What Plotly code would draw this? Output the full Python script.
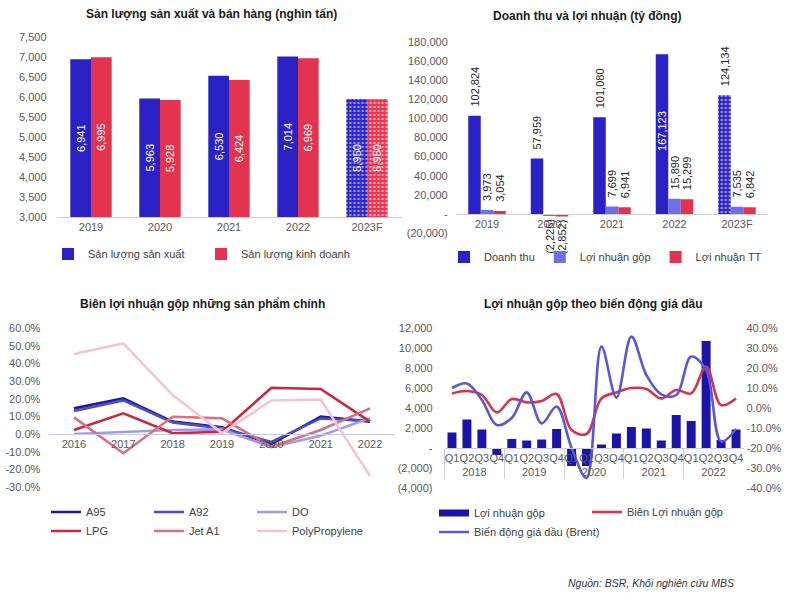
import plotly.graph_objects as go

# ---------------- data ----------------
years_prod = ["2019", "2020", "2021", "2022", "2023F"]
san_luong_san_xuat = [6941, 5963, 6530, 7014, 5950]
san_luong_kinh_doanh = [6995, 5928, 6424, 6969, 5950]
prod_tickvals = [3000, 3500, 4000, 4500, 5000, 5500, 6000, 6500, 7000, 7500]

years_rev = ["2019", "2020", "2021", "2022", "2023F"]
doanh_thu = [102824, 57959, 101080, 167123, 124134]
loi_nhuan_gop = [3973, -2225, 7699, 15890, 7535]
loi_nhuan_tt = [3054, -2852, 6941, 15299, 6842]
rev_tickvals = [-20000, 0, 20000, 40000, 60000, 80000, 100000, 120000, 140000, 160000, 180000]
rev_ticktext = ["(20,000)", "-", "20,000", "40,000", "60,000", "80,000", "100,000",
                "120,000", "140,000", "160,000", "180,000"]

years_margin = ["2016", "2017", "2018", "2019", "2020", "2021", "2022"]
margin_A95 = [14.5, 20.2, 7.0, 3.8, -5.7, 9.8, 7.0]
margin_A92 = [13.0, 19.0, 6.5, 3.2, -4.5, 8.8, 7.4]
margin_DO = [0.0, 1.3, 2.3, 2.6, -7.5, -1.0, 9.0]
margin_LPG = [2.3, 11.7, 0.4, 1.3, 26.2, 25.5, 7.0]
margin_JetA1 = [9.4, -10.9, 9.8, 8.9, -7.2, 2.3, 14.5]
margin_PP = [45.3, 51.3, 22.0, 0.5, 19.0, 19.5, -23.8]
margin_tickvals = [-30, -20, -10, 0, 10, 20, 30, 40, 50, 60]
margin_ticktext = ["-30.0%", "-20.0%", "-10.0%", "0.0%", "10.0%", "20.0%", "30.0%",
                   "40.0%", "50.0%", "60.0%"]

q_years = ["2018", "2018", "2018", "2018", "2019", "2019", "2019", "2019",
           "2020", "2020", "2020", "2020", "2021", "2021", "2021", "2021",
           "2022", "2022", "2022", "2022"]
q_quarters = ["Q1", "Q2", "Q3", "Q4", "Q1", "Q2", "Q3", "Q4", "Q1", "Q2", "Q3", "Q4",
              "Q1", "Q2", "Q3", "Q4", "Q1", "Q2", "Q3", "Q4"]
ln_gop_quy = [1550, 2850, 1850, -700, 900, 750, 850, 1900, -1800, -1800, 350, 1450,
              2100, 1950, 750, 3300, 2700, 10700, 800, 1850]
bien_ln_gop = [7.3, 8.5, 6.5, -2.2, 4.5, 2.8, 3.5, 7.0, -11.0, -13.0, 4.8, 7.8,
               10.0, 9.5, 4.8, 9.0, 7.3, 20.7, 1.5, 4.8]
bien_dong_brent = [10.0, 12.3, 4.0, -8.5, -5.0, 7.8, -7.7, 0.7, -20.0, -35.0, 30.7, 5.2,
                   35.7, 16.5, 6.8, 6.5, 25.7, 19.0, -16.8, -10.5]
q_left_tickvals = [-4000, -2000, 0, 2000, 4000, 6000, 8000, 10000, 12000]
q_left_ticktext = ["(4,000)", "(2,000)", "-", "2,000", "4,000", "6,000", "8,000", "10,000", "12,000"]
q_right_tickvals = [-40, -30, -20, -10, 0, 10, 20, 30, 40]
q_right_ticktext = ["-40.0%", "-30.0%", "-20.0%", "-10.0%", "0.0%", "10.0%", "20.0%",
                    "30.0%", "40.0%"]

forecast_pattern = ["", "", "", "", "."]

# ---------------- style ----------------
W, H = 800, 593
FONT = "Liberation Sans, Arial, sans-serif"
BLUE = "#2a22c4"
RED = "#e3344f"
LBLUE = "#6f6fe6"
NAVY = "#1c14a8"
GREY = "#595959"
TICKFONT = dict(family=FONT, size=11, color=GREY)
LEGFONT = dict(family=FONT, size=11, color="#404040")
PROD_BASE = 3000  # bars of panel 1 start at the axis floor
PAD = "\u00a0\u00a0"


def yd(py):
    return 1 - py / H


def zero_pos(dom, rng):
    return dom[0] + (dom[1] - dom[0]) * (0 - rng[0]) / (rng[1] - rng[0])


def fmt(v):
    return f"({abs(v):,})" if v < 0 else f"{v:,}"


def fmt_out(v):
    return fmt(v) if v < 0 else PAD + fmt(v)


fig = go.Figure()

# ---- panel 1 ----
for vals, name, col in [(san_luong_san_xuat, "Sản lượng sản xuất", BLUE),
                        (san_luong_kinh_doanh, "Sản lượng kinh doanh", RED)]:
    fig.add_trace(go.Bar(
        x=years_prod, y=[v - PROD_BASE for v in vals], base=PROD_BASE, name=name,
        xaxis="x", yaxis="y", legend="legend",
        marker=dict(color=col, line_width=0,
                    pattern=dict(shape=forecast_pattern, fgcolor="white", size=4,
                                 solidity=0.35, fillmode="overlay")),
        text=[fmt(v) for v in vals], textposition="inside", insidetextanchor="middle",
        textangle=-90, insidetextfont=dict(family=FONT, size=11, color="white"),
        constraintext="none", hoverinfo="skip"))

# ---- panel 2 ----
fig.add_trace(go.Bar(
    x=years_rev, y=doanh_thu, name="Doanh thu", xaxis="x2", yaxis="y2", legend="legend2",
    marker=dict(color=BLUE, line_width=0,
                pattern=dict(shape=forecast_pattern, fgcolor="white", size=4,
                             solidity=0.35, fillmode="overlay")),
    text=[fmt_out(v) for v in doanh_thu],
    textposition=["outside", "outside", "outside", "inside", "outside"],
    insidetextanchor="middle", textangle=-90, constraintext="none", cliponaxis=False,
    insidetextfont=dict(family=FONT, size=11, color="white"),
    outsidetextfont=dict(family=FONT, size=11, color="#262626"), hoverinfo="skip"))
for vals, name, col in [(loi_nhuan_gop, "Lợi nhuận gộp", LBLUE),
                        (loi_nhuan_tt, "Lợi nhuận TT", RED)]:
    fig.add_trace(go.Bar(
        x=years_rev, y=vals, name=name, xaxis="x2", yaxis="y2", legend="legend2",
        marker=dict(color=col, line_width=0),
        text=[fmt_out(v) for v in vals], textposition="outside", textangle=-90,
        constraintext="none", cliponaxis=False,
        outsidetextfont=dict(family=FONT, size=11, color="#262626"), hoverinfo="skip"))

# ---- panel 3 ----
lines3 = [(margin_A95, "A95", "#1d1a96", "legend3"),
          (margin_A92, "A92", "#4d4cc8", "legend4"),
          (margin_DO, "DO", "#9d9ce8", "legend7"),
          (margin_LPG, "LPG", "#c9283f", "legend3"),
          (margin_JetA1, "Jet A1", "#d9707f", "legend4"),
          (margin_PP, "PolyPropylene", "#f3c6cf", "legend7")]
for vals, name, col, leg in lines3:
    fig.add_trace(go.Scatter(
        x=years_margin, y=vals, name=name, mode="lines", xaxis="x3", yaxis="y3",
        legend=leg, line=dict(color=col, width=2.6), hoverinfo="skip"))

# ---- panel 4 ----
fig.add_trace(go.Bar(
    x=[q_years, q_quarters], y=ln_gop_quy, name="Lợi nhuận gộp", xaxis="x4", yaxis="y4",
    marker=dict(color=NAVY, line_width=0), showlegend=False, hoverinfo="skip"))
fig.add_trace(go.Scatter(
    x=[None], y=[None], name="Lợi nhuận gộp", mode="lines", xaxis="x4", yaxis="y4",
    legend="legend5", line=dict(color=NAVY, width=7)))
fig.add_trace(go.Scatter(
    x=[q_years, q_quarters], y=bien_ln_gop, name="Biên Lợi nhuận gộp", mode="lines",
    xaxis="x4", yaxis="y5", legend="legend6",
    line=dict(color="#d8334c", width=2.6, shape="spline", smoothing=1.0), hoverinfo="skip"))
fig.add_trace(go.Scatter(
    x=[q_years, q_quarters], y=bien_dong_brent, name="Biến động giá dầu (Brent)", mode="lines",
    xaxis="x4", yaxis="y5", legend="legend5",
    line=dict(color="#5a58d6", width=2.6, shape="spline", smoothing=1.0), hoverinfo="skip"))

# ---------------- layout ----------------
d1x, d1y, r1 = [56.5 / W, 401.5 / W], [yd(217), yd(37)], [3000, 7500]
d2x, d2y, r2 = [455.75 / W, 768.25 / W], [yd(233), yd(42)], [-20000, 180000]
d3x, d3y, r3 = [49.3 / W, 394.7 / W], [yd(487), yd(328)], [-30, 60]
d4x, d4y, r4 = [444.5 / W, 743.5 / W], [yd(488), yd(328)], [-4000, 12000]
r5 = [-40, 40]

common_x = dict(showgrid=False, zeroline=False, tickfont=TICKFONT, fixedrange=True,
                automargin=False)
common_y = dict(showgrid=False, zeroline=False, ticks="", tickfont=TICKFONT, showline=False,
                fixedrange=True, automargin=False)


def leg(x, y, ew=0, orient="h"):
    return dict(x=x / W, y=yd(y), xanchor="left", yanchor="middle", orientation=orient,
                font=LEGFONT, bgcolor="rgba(0,0,0,0)", entrywidth=ew,
                entrywidthmode="pixels", itemwidth=30, tracegroupgap=0)


fig.update_layout(
    width=W, height=H, margin=dict(l=0, r=0, t=0, b=0, autoexpand=False),
    paper_bgcolor="white", plot_bgcolor="white",
    font=dict(family=FONT, color=GREY),
    barmode="group", bargap=0.4, bargroupgap=0,
    xaxis=dict(domain=d1x, anchor="y", showline=True, linecolor="#d0d0d0", ticks="",
               **common_x),
    yaxis=dict(domain=d1y, anchor="x", range=r1, tickvals=prod_tickvals, tickformat=",",
               ticklabelstandoff=9, **common_y),
    xaxis2=dict(domain=d2x, anchor="free", position=zero_pos(d2y, r2), showline=True,
                linecolor="#d0d0d0", ticks="", **common_x),
    yaxis2=dict(domain=d2y, anchor="x2", range=r2, tickvals=rev_tickvals,
                ticktext=rev_ticktext, ticklabelstandoff=7, **common_y),
    xaxis3=dict(domain=d3x, anchor="free", position=zero_pos(d3y, r3), showline=True,
                linecolor="#c8c8e0", ticks="", range=[-0.5, len(years_margin) - 0.5],
                **common_x),
    yaxis3=dict(domain=d3y, anchor="x3", range=r3, tickvals=margin_tickvals,
                ticktext=margin_ticktext, ticklabelstandoff=8, **common_y),
    xaxis4=dict(domain=d4x, anchor="free", position=zero_pos(d4y, r4), showline=True,
                linecolor="#d0d0d0", showdividers=True, dividercolor="#d0d0d0",
                dividerwidth=1, tickangle=0, ticks="outside", ticklen=10,
                tickcolor="rgba(0,0,0,0)", **common_x),
    yaxis4=dict(domain=d4y, anchor="x4", range=r4, tickvals=q_left_tickvals,
                ticktext=q_left_ticktext, ticklabelstandoff=11, **common_y),
    yaxis5=dict(domain=d4y, anchor="x4", overlaying="y4", side="right", range=r5,
                tickvals=q_right_tickvals, ticktext=q_right_ticktext, ticklabelstandoff=2,
                **common_y),
    legend=leg(48, 254, 108),
    legend2=leg(444, 257),
    legend3=leg(46, 521.5, orient="v"),
    legend4=leg(149, 521.5, orient="v"),
    legend7=leg(252, 521.5, orient="v"),
    legend5=leg(434, 522.5, orient="v"),
    legend6=leg(587, 512),
    showlegend=True,
)

titles = [("Sản lượng sản xuất và bán hàng (nghìn tấn)", 211, 14),
          ("Doanh thu và lợi nhuận (tỷ đồng)", 587, 16),
          ("Biên lợi nhuận gộp những sản phẩm chính", 202, 304),
          ("Lợi nhuận gộp theo biến động giá dầu", 593, 304)]
for t, x, y in titles:
    fig.add_annotation(text=f"<b>{t}</b>", x=x / W, y=yd(y), xref="paper", yref="paper",
                       xanchor="center", yanchor="middle", showarrow=False,
                       font=dict(family=FONT, size=12, color="#1a1a1a"))

fig.add_annotation(text="<i>Nguồn: BSR, Khối nghiên cứu MBS</i>", x=651 / W, y=yd(583),
                   xref="paper", yref="paper", xanchor="center", yanchor="middle",
                   showarrow=False, font=dict(family=FONT, size=10.5, color="#333333"))

fig.write_html("out.html", config={"displayModeBar": False},
               post_script="document.body.style.margin='0px';")
